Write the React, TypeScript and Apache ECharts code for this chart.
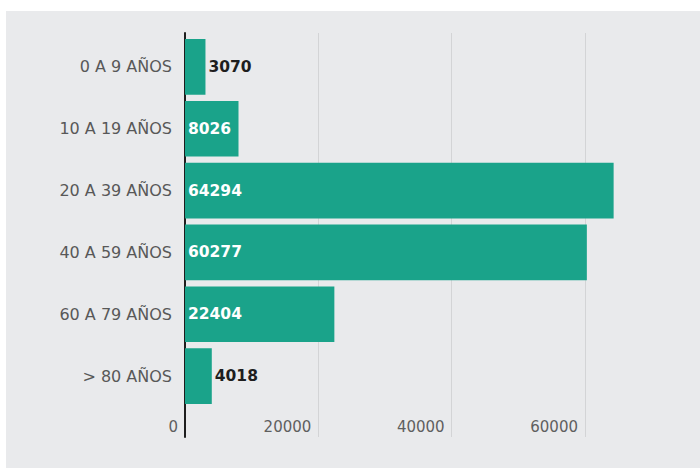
import React, { useEffect, useRef } from "react";
import * as echarts from "echarts";

const categories = ["0 A 9 AÑOS", "10 A 19 AÑOS", "20 A 39 AÑOS", "40 A 59 AÑOS", "60 A 79 AÑOS", "> 80 AÑOS"];
const values = [3070, 8026, 64294, 60277, 22404, 4018];
const outsideLabel = [true, false, false, false, false, true];

const FONT = "'DejaVu Sans', sans-serif";
const X_MAX = 66000;

export default function App() {
  const ref = useRef<HTMLDivElement>(null);
  useEffect(() => {
    if (!ref.current) return;
    const chart = echarts.init(ref.current, null, { renderer: "svg" });
    const data = values.map((v, i) => ({
      value: v,
      label: outsideLabel[i]
        ? { position: "right", distance: 3, color: "#1e1e1e" }
        : { position: "insideLeft", distance: 3, color: "#ffffff" },
    }));
    chart.setOption({
      animation: false,
      backgroundColor: "#e9eaec",
      grid: [
        { left: 179, top: 22, bottom: 31, width: 440 },
        { left: 179, top: 25, bottom: 61, width: 440 },
      ],
      xAxis: [
        {
          gridIndex: 0,
          type: "value",
          min: 0,
          max: X_MAX,
          interval: 20000,
          axisLine: { show: false },
          axisTick: { show: false },
          splitLine: { show: true, showMinLine: false, showMaxLine: false, lineStyle: { color: "#d3d4d6", width: 1 } },
          axisLabel: {
            showMaxLabel: false,
            margin: -18,
            align: "right",
            padding: [0, 7, 0, 0],
            color: "#5f5f5f",
            fontFamily: FONT,
            fontSize: 15,
            formatter: (v: number) => String(v),
          },
        },
        {
          gridIndex: 1,
          type: "value",
          min: 0,
          max: X_MAX,
          interval: 20000,
          show: false,
        },
      ],
      yAxis: [
        {
          gridIndex: 0,
          type: "category",
          data: categories,
          inverse: true,
          axisLine: { show: true, lineStyle: { color: "#1e1e1e", width: 2 } },
          axisTick: { show: false },
          axisLabel: { show: false },
        },
        {
          gridIndex: 1,
          type: "category",
          data: categories,
          inverse: true,
          axisLine: { show: false },
          axisTick: { show: false },
          axisLabel: { margin: 13, color: "#585858", fontFamily: FONT, fontSize: 16 },
        },
      ],
      series: [
        {
          type: "bar",
          xAxisIndex: 1,
          yAxisIndex: 1,
          data,
          barCategoryGap: "10%",
          itemStyle: { color: "#1aa38a" },
          label: {
            show: true,
            fontFamily: FONT,
            fontWeight: "bold",
            fontSize: 15.5,
          },
        },
      ],
    });
    return () => chart.dispose();
  }, []);
  return (
    <div style={{ position: "fixed", left: 0, top: 0, width: 700, height: 468, background: "#ffffff" }}>
      <div ref={ref} style={{ position: "absolute", left: 6, top: 11, width: 694, height: 457 }} />
    </div>
  );
}
